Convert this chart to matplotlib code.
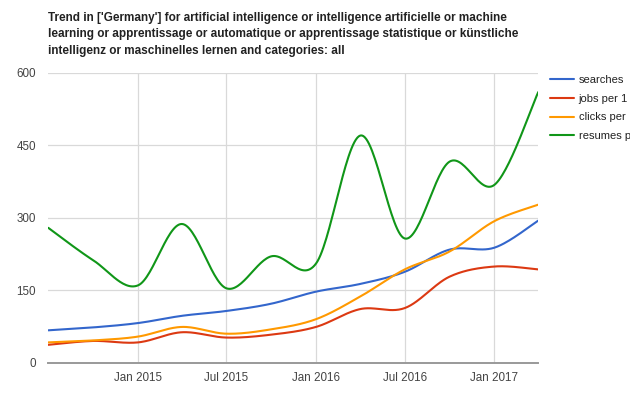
import datetime as dt

import numpy as np
import matplotlib
matplotlib.use("Agg")
import matplotlib.pyplot as plt
import matplotlib.dates as mdates

plt.rcParams["font.family"] = ["Liberation Sans", "DejaVu Sans"]

# quarterly readings, Jul 2014 .. Apr 2017
months = [
    "2014-07", "2014-10", "2015-01", "2015-04", "2015-07", "2015-10",
    "2016-01", "2016-04", "2016-07", "2016-10", "2017-01", "2017-04",
]
searches = [67, 73, 82, 97, 107, 122, 147, 163, 188, 234, 238, 294]
jobs = [37, 45, 42, 63, 52, 58, 74, 111, 113, 178, 199, 193]
clicks = [42, 46, 54, 74, 60, 69, 90, 137, 193, 230, 293, 327]
resumes = [279, 212, 160, 287, 154, 220, 205, 470, 257, 416, 368, 560]

series_names = ["searches", "jobs per 1", "clicks per", "resumes p"]
colors = ["#3366cc", "#dc3912", "#ff9900", "#109618"]

y_ticks = [0, 150, 300, 450, 600]
x_tick_months = ["2015-01", "2015-07", "2016-01", "2016-07", "2017-01"]

title = ("Trend in ['Germany'] for artificial intelligence or intelligence artificielle or machine\n"
         "learning or apprentissage or automatique or apprentissage statistique or künstliche\n"
         "intelligenz or maschinelles lernen and categories: all")


def to_date(s):
    return dt.datetime.strptime(s, "%Y-%m")


def smooth_curve(xs, ys, steps=30):
    # catmull-rom style curve through the points, like curveType 'function'
    xs = np.asarray(xs, dtype=float)
    ys = np.asarray(ys, dtype=float)
    px = np.concatenate([[xs[0]], xs, [xs[-1]]])
    py = np.concatenate([[ys[0]], ys, [ys[-1]]])
    out_x, out_y = [], []
    t = np.linspace(0, 1, steps, endpoint=False)
    for i in range(1, len(px) - 2):
        for p, out in ((px, out_x), (py, out_y)):
            p0, p1, p2, p3 = p[i - 1], p[i], p[i + 1], p[i + 2]
            c1 = p1 + (p2 - p0) / 6.0
            c2 = p2 - (p3 - p1) / 6.0
            out.extend((1 - t) ** 3 * p1 + 3 * (1 - t) ** 2 * t * c1
                       + 3 * (1 - t) * t ** 2 * c2 + t ** 3 * p2)
    out_x.append(xs[-1])
    out_y.append(ys[-1])
    return np.array(out_x), np.array(out_y)


dates = mdates.date2num([to_date(m) for m in months])

fig = plt.figure(figsize=(6.3, 4.12), dpi=100)
ax = fig.add_axes([48.3 / 630, 49.3 / 412, 490 / 630, 290 / 412])

for vals, name, col in zip([searches, jobs, clicks, resumes], series_names, colors):
    sx, sy = smooth_curve(dates, vals)
    ax.plot(sx, sy, color=col, lw=1.5, label=name, solid_capstyle="round")

ax.set_xlim(dates[0], dates[-1])
ax.set_ylim(0, 600)
ax.set_yticks(y_ticks)
ax.set_xticks(mdates.date2num([to_date(m) for m in x_tick_months]))
ax.xaxis.set_major_formatter(mdates.DateFormatter("%b %Y"))
ax.grid(True, color="#d9d9d9", lw=0.9)
ax.set_axisbelow(True)
for side in ["top", "right", "left"]:
    ax.spines[side].set_visible(False)
ax.spines["bottom"].set_color("#999999")
ax.spines["bottom"].set_linewidth(1.4)
ax.tick_params(length=0, labelsize=8.4, labelcolor="#444444")
ax.tick_params(axis="y", pad=9)
ax.tick_params(axis="x", pad=7)

leg = ax.legend(loc="upper left", bbox_to_anchor=(1.0 + 2 / 490, 1.0 + 8 / 290),
                frameon=False, fontsize=8.0, handlelength=2.1, handletextpad=0.45,
                labelspacing=0.8, borderaxespad=0.5)
for t in leg.get_texts():
    t.set_color("#222222")

fig.text(48.3 / 630, 1 - 12 / 412, title, ha="left", va="top", fontsize=8.5,
         fontweight="bold", color="#222222", linespacing=1.5)

fig.savefig("out.png", dpi=100)
